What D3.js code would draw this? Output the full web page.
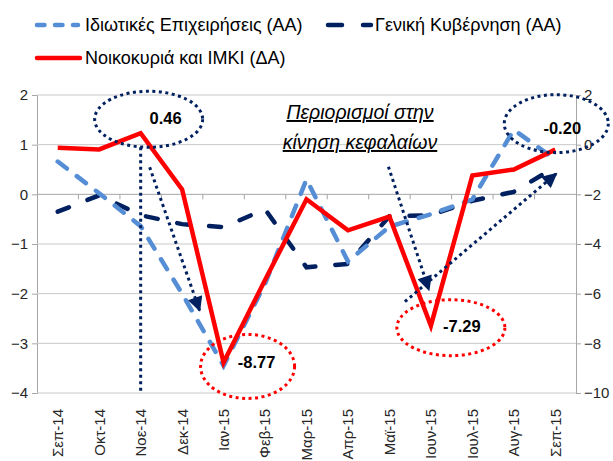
<!DOCTYPE html>
<html lang="el">
<head>
<meta charset="UTF-8">
<title>Chart</title>
<script src="https://d3js.org/d3.v7.min.js"></script>
<style>
  body { margin: 0; background: #fff; }
  svg text { font-family: "Liberation Sans", Arial, sans-serif; }
</style>
</head>
<body>
<svg id="chart" width="613" height="461"></svg>
<script>
// data
const months = ["Σεπ-14", "Οκτ-14", "Νοε-14", "Δεκ-14", "Ιαν-15", "Φεβ-15", "Μαρ-15",
                "Απρ-15", "Μαϊ-15", "Ιουν-15", "Ιουλ-15", "Αυγ-15", "Σεπ-15"];
const privateBiz = [0.66, 0.02, -0.64, -2.0, -3.45, -1.8, 0.3, -1.35, -0.65, -0.4, -0.1, 1.3, 0.7];
const government = [-0.35, -0.02, -0.42, -0.6, -0.66, -0.3, -1.47, -1.4, -0.44, -0.42, -0.13, 0.05, 0.55];
const households = [-0.12, -0.19, 0.46, -1.8, -8.77, -5.45, -2.2, -3.45, -2.9, -7.29, -1.24, -1.0, -0.20];
const leftTicks = [2, 1, 0, -1, -2, -3, -4];
const rightTicks = [2, 0, -2, -4, -6, -8, -10];
const seriesNames = ["Ιδιωτικές Επιχειρήσεις (ΑΑ)", "Γενική Κυβέρνηση (ΑΑ)", "Νοικοκυριά και ΙΜΚΙ (ΔΑ)"];
const callouts = [
  { month: "Νοε-14", value: 0.46, label: "0.46", color: "#002060" },
  { month: "Ιαν-15", value: -8.77, label: "-8.77", color: "#FF0000" },
  { month: "Ιουν-15", value: -7.29, label: "-7.29", color: "#FF0000" },
  { month: "Σεπ-15", value: -0.20, label: "-0.20", color: "#002060" }
];

const lightBlue = "#558ED5", navy = "#002060", red = "#FF0000";
const plotL = 37, plotR = 576, plotT = 95, plotB = 393;

const svg = d3.select("#chart");

const x = d3.scaleBand().domain(months).range([plotL, plotR]);
const xc = m => x(m) + x.bandwidth() / 2;
const yL = d3.scaleLinear().domain([-4, 2]).range([plotB, plotT]);
const yR = d3.scaleLinear().domain([-10, 2]).range([plotB, plotT]);

// gridlines + left axis
const gAxL = svg.append("g").attr("transform", `translate(${plotL},0)`)
  .call(d3.axisLeft(yL).tickValues(leftTicks).tickSize(5).tickFormat(d3.format("d")));
gAxL.select(".domain").attr("stroke", "#A6A6A6");
gAxL.selectAll(".tick line").attr("stroke", "#A6A6A6");
gAxL.selectAll(".tick text").attr("font-size", 15).attr("fill", "#262626").attr("x", -9);

svg.append("g").selectAll("line").data(leftTicks.filter(d => d !== 0)).join("line")
  .attr("x1", plotL).attr("x2", plotR)
  .attr("y1", d => yL(d)).attr("y2", d => yL(d))
  .attr("stroke", "#C8C8C8").attr("stroke-width", 1);

// right axis
const gAxR = svg.append("g").attr("transform", `translate(${plotR},0)`)
  .call(d3.axisRight(yR).tickValues(rightTicks).tickSize(5).tickFormat(d3.format("d")));
gAxR.select(".domain").attr("stroke", "#A6A6A6");
gAxR.selectAll(".tick line").attr("stroke", "#A6A6A6");
gAxR.selectAll(".tick text").attr("font-size", 15).attr("fill", "#262626").attr("x", 8);

// category axis at zero
const zeroY = yL(0);
svg.append("line").attr("x1", plotL).attr("x2", plotR).attr("y1", zeroY).attr("y2", zeroY)
  .attr("stroke", "#A6A6A6");
svg.append("g").selectAll("line").data(months.slice(1)).join("line")
  .attr("x1", d => x(d)).attr("x2", d => x(d))
  .attr("y1", zeroY).attr("y2", zeroY + 5)
  .attr("stroke", "#A6A6A6");

const gX = svg.append("g").attr("transform", `translate(0,${plotB})`)
  .call(d3.axisBottom(x).tickSize(0));
gX.select(".domain").remove();
gX.selectAll(".tick text")
  .attr("font-size", 15).attr("fill", "#262626")
  .attr("text-anchor", "end")
  .attr("transform", "rotate(-90)")
  .attr("x", -16).attr("y", 0).attr("dy", "0.36em");

// series
const lineL = d3.line().x((d, i) => xc(months[i])).y(d => yL(d));
const lineR = d3.line().x((d, i) => xc(months[i])).y(d => yR(d));

svg.append("path").datum(government).attr("d", lineL)
  .attr("fill", "none").attr("stroke", navy).attr("stroke-width", 4.5)
  .attr("stroke-dasharray", "12,20").attr("stroke-linecap", "round");
svg.append("path").datum(privateBiz).attr("d", lineL)
  .attr("fill", "none").attr("stroke", lightBlue).attr("stroke-width", 4.5)
  .attr("stroke-dasharray", "11.5,12.5").attr("stroke-linecap", "round");
svg.append("path").datum(households).attr("d", lineR)
  .attr("fill", "none").attr("stroke", red).attr("stroke-width", 4.5)
  .attr("stroke-linejoin", "miter");

// annotations
function dotted(sel, color) {
  return sel.attr("stroke", color).attr("stroke-width", 3)
    .attr("stroke-dasharray", "3,3.5").attr("fill", "none");
}
const defs = svg.append("defs");
defs.append("marker").attr("id", "tri").attr("viewBox", "0 0 10 10")
  .attr("refX", 9).attr("refY", 5).attr("markerWidth", 5.5).attr("markerHeight", 5)
  .attr("orient", "auto").attr("markerUnits", "strokeWidth")
  .append("path").attr("d", "M0,0L10,5L0,10Z").attr("fill", navy);

const ellOff = [
  { dx: 8, dy: -14, rx: 54, ry: 28, tx: 25, ty: -15 },
  { dx: 24, dy: 4, rx: 47, ry: 32, tx: 33, ty: 0 },
  { dx: 20, dy: 2, rx: 54, ry: 28, tx: 31, ty: 0 },
  { dx: 1, dy: -26, rx: 52, ry: 29, tx: 7, ty: -22 }
];
callouts.forEach((c, i) => {
  const o = ellOff[i];
  const cx = xc(c.month), cy = yR(c.value);
  dotted(svg.append("ellipse"), c.color)
    .attr("cx", cx + o.dx).attr("cy", cy + o.dy).attr("rx", o.rx).attr("ry", o.ry);
  svg.append("text").attr("x", cx + o.tx).attr("y", cy + o.ty).attr("dy", "0.36em")
    .attr("text-anchor", "middle").attr("font-size", 16.5).attr("font-weight", "bold")
    .attr("fill", "#000").text(c.label);
});

// vertical dotted line from the November peak
const novX = xc("Νοε-14");
dotted(svg.append("line"), navy)
  .attr("x1", novX).attr("x2", novX).attr("y1", yR(0.46) + 14).attr("y2", plotB - 2);

// arrows
const arrows = [
  { from: ["Νοε-14", 9, 0.46, 34], to: ["Ιαν-15", -24, -8.77, -52] },
  { from: ["Μαϊ-15", -1, -2.9, -50], to: ["Ιουν-15", -2, -7.29, -36] },
  { from: ["Ιουν-15", -26, -7.29, -24], to: ["Σεπ-15", 1, -0.20, 24] }
];
arrows.forEach(a => {
  dotted(svg.append("line"), navy)
    .attr("x1", xc(a.from[0]) + a.from[1]).attr("y1", yR(a.from[2]) + a.from[3])
    .attr("x2", xc(a.to[0]) + a.to[1]).attr("y2", yR(a.to[2]) + a.to[3])
    .attr("marker-end", "url(#tri)");
});

// capital controls note
const note = svg.append("g").attr("font-style", "italic").attr("font-size", 19.5)
  .attr("fill", "#000").attr("text-anchor", "middle").attr("text-decoration", "underline");
note.append("text").attr("x", 360).attr("y", 119).text("Περιορισμοί στην");
note.append("text").attr("x", 360).attr("y", 149).text("κίνηση κεφαλαίων");

// legend
const legend = svg.append("g").attr("font-size", 18).attr("fill", "#000");
const legItems = [
  { name: seriesNames[0], color: lightBlue, dash: "7.5,10.5", x1: 37, x2: 78, y: 25, tx: 85 },
  { name: seriesNames[1], color: navy, dash: "14,21", x1: 328, x2: 371, y: 25, tx: 375 },
  { name: seriesNames[2], color: red, dash: null, x1: 37, x2: 80, y: 58, tx: 85 }
];
legItems.forEach(d => {
  const ln = legend.append("line").attr("x1", d.x1).attr("x2", d.x2)
    .attr("y1", d.y).attr("y2", d.y).attr("stroke", d.color).attr("stroke-width", 4.5)
    .attr("stroke-linecap", "round");
  if (d.dash) ln.attr("stroke-dasharray", d.dash);
  legend.append("text").attr("x", d.tx).attr("y", d.y).attr("dy", "0.36em")
    .text(d.name);
});
</script>
</body>
</html>
